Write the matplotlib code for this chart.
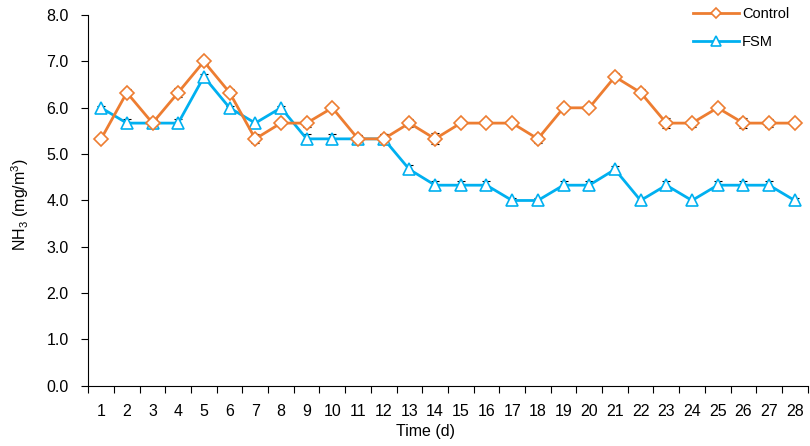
import numpy as np
import matplotlib
matplotlib.use('Agg')
import matplotlib.pyplot as plt

plt.rcParams['font.family'] = ['Liberation Sans', 'DejaVu Sans']
plt.rcParams['mathtext.fontset'] = 'custom'
plt.rcParams['mathtext.rm'] = 'Liberation Sans'

days = np.arange(1, 29)
control = [5.33, 6.33, 5.67, 6.33, 7.00, 6.33, 5.33, 5.67, 5.67, 6.00, 5.33, 5.33, 5.67, 5.33,
           5.67, 5.67, 5.67, 5.33, 6.00, 6.00, 6.67, 6.33, 5.67, 5.67, 6.00, 5.67, 5.67, 5.67]
control_err = [0.05, 0.08, 0.10, 0.10, 0.05, 0.08, 0.10, 0.05, 0.08, 0.05, 0.08, 0.10, 0.08, 0.12,
               0.05, 0.05, 0.05, 0.08, 0.05, 0.05, 0.08, 0.08, 0.10, 0.08, 0.05, 0.10, 0.08, 0.05]
fsm = [6.00, 5.67, 5.67, 5.67, 6.67, 6.00, 5.67, 6.00, 5.33, 5.33, 5.33, 5.33, 4.67, 4.33,
       4.33, 4.33, 4.00, 4.00, 4.33, 4.33, 4.67, 4.00, 4.33, 4.00, 4.33, 4.33, 4.33, 4.00]
fsm_err = [0.05, 0.08, 0.08, 0.08, 0.05, 0.05, 0.05, 0.05, 0.10, 0.10, 0.08, 0.10, 0.10, 0.08,
           0.08, 0.08, 0.05, 0.05, 0.10, 0.10, 0.08, 0.08, 0.10, 0.05, 0.08, 0.10, 0.08, 0.05]

orange = '#ED7D31'
blue = '#00B0F0'

fig = plt.figure(figsize=(8.1, 4.46), dpi=100)
ax = fig.add_axes([0.109, 0.135, 0.888, 0.831])

ax.errorbar(days, control, yerr=control_err, fmt='none', ecolor='black', elinewidth=0.8, capsize=3, capthick=0.8, zorder=1)
ax.errorbar(days, fsm, yerr=fsm_err, fmt='none', ecolor='black', elinewidth=0.8, capsize=3, capthick=0.8, zorder=1)
ax.plot(days, control, color=orange, linewidth=2, marker='D', markersize=7,
        markerfacecolor='white', markeredgecolor=orange, markeredgewidth=1.2, label='Control', zorder=3)
ax.plot(days, fsm, color=blue, linewidth=2, marker='^', markersize=9,
        markerfacecolor='white', markeredgecolor=blue, markeredgewidth=1.2, label='FSM', zorder=2)

ax.set_xlim(0.5, 28.5)
ax.set_ylim(0, 8)
ax.set_yticks(np.arange(0, 8.1, 1))
ax.set_yticklabels(['%.1f' % v for v in np.arange(0, 8.1, 1)])
ax.set_xticks(days)
ax.set_xticklabels([str(d) for d in days])
ax.set_xticks(np.arange(0.5, 28.6, 1), minor=True)
ax.tick_params(axis='x', which='major', length=0, labelsize=11.5, pad=13)
ax.tick_params(axis='x', which='minor', length=5, direction='out', width=0.8)
ax.tick_params(axis='y', length=5, direction='out', width=0.8, labelsize=11.5, pad=9)

for s in ['top', 'right']:
    ax.spines[s].set_visible(False)
for s in ['left', 'bottom']:
    ax.spines[s].set_linewidth(0.8)

ax.set_xlabel('Time (d)', fontsize=11.5)
ax.xaxis.set_label_coords(0.469, -0.103)
ax.set_ylabel('NH$_3$ (mg/m$^3$)', fontsize=11.5)
ax.yaxis.set_label_coords(-0.08, 0.49)

ax.legend(loc='upper right', bbox_to_anchor=(0.993, 1.058), frameon=False, fontsize=10.5,
          handlelength=3.2, labelspacing=1.0, handletextpad=0.2, markerscale=0.75)

fig.savefig('out.png', dpi=100)
